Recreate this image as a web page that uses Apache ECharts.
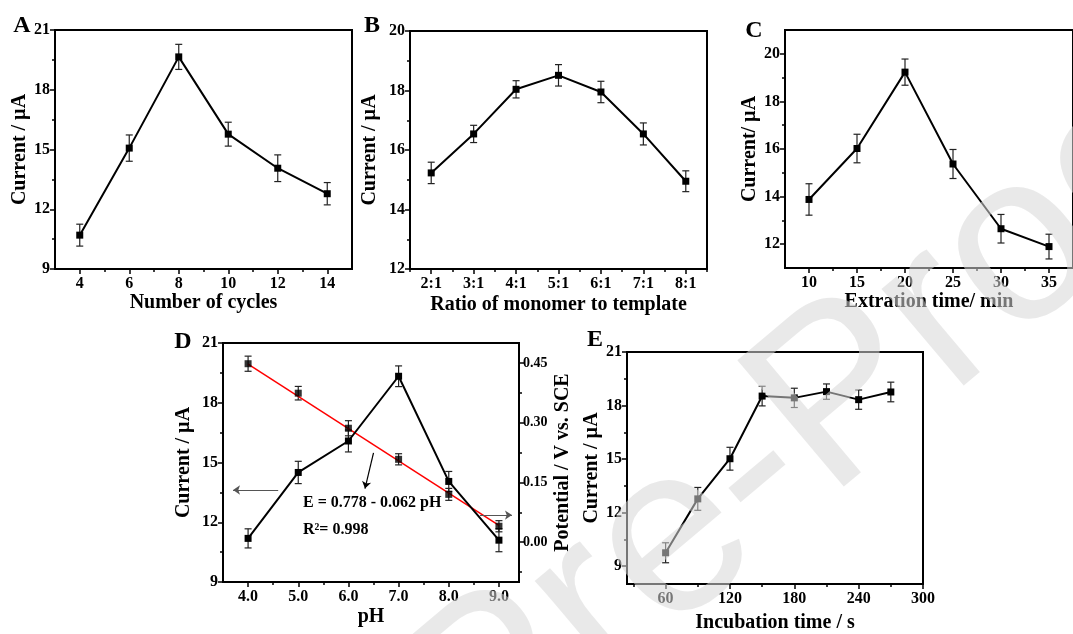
<!DOCTYPE html>
<html><head><meta charset="utf-8">
<script src="https://cdn.jsdelivr.net/npm/echarts@6/dist/echarts.min.js"></script>
<style>html,body{margin:0;padding:0;background:#fff}#c{width:1073px;height:634px}</style>
</head><body><div id="c"></div>
<script>
const FONT = '"Liberation Serif","Times New Roman",serif';

// ---------- Panel A : number of cycles ----------
const cyclesX = [4, 6, 8, 10, 12, 14];
const cyclesCurrent = [10.7, 15.07, 19.65, 15.77, 14.06, 12.78];
const cyclesError = [0.55, 0.66, 0.63, 0.6, 0.67, 0.56];
const cyclesXTicks = [4, 6, 8, 10, 12, 14];
const cyclesXMinor = [5, 7, 9, 11, 13];
const current9Ticks = [9, 12, 15, 18, 21];
const current9Minor = [10.5, 13.5, 16.5, 19.5];

// ---------- Panel B : monomer / template ratio ----------
const ratioCats = ['2:1', '3:1', '4:1', '5:1', '6:1', '7:1', '8:1'];
const ratioCurrent = [15.23, 16.54, 18.04, 18.51, 17.95, 16.54, 14.95];
const ratioError = [0.36, 0.29, 0.29, 0.36, 0.36, 0.37, 0.35];
const ratioYTicks = [12, 14, 16, 18, 20];
const ratioYMinor = [13, 15, 17, 19];

// ---------- Panel C : extraction time ----------
const extX = [10, 15, 20, 25, 30, 35];
const extCurrent = [13.88, 16.02, 19.23, 15.37, 12.65, 11.9];
const extError = [0.66, 0.6, 0.55, 0.61, 0.6, 0.52];
const extXTicks = [10, 15, 20, 25, 30, 35];
const extXMinor = [12.5, 17.5, 22.5, 27.5, 32.5];
const extYTicks = [12, 14, 16, 18, 20];
const extYMinor = [13, 15, 17, 19];

// ---------- Panel D : pH ----------
const phX = [4, 5, 6, 7, 8, 9];
const phCurrent = [11.19, 14.5, 16.08, 19.33, 14.05, 11.1];
const phCurrentError = [0.48, 0.56, 0.55, 0.52, 0.5, 0.58];
const phPotential = [0.448, 0.374, 0.286, 0.208, 0.12, 0.04];
const phPotentialError = [0.019, 0.017, 0.019, 0.014, 0.015, 0.014];
const phFitX = [4, 9];
const phFitPotential = [0.447, 0.042];
const phXTicks = [4, 5, 6, 7, 8, 9];
const phXMinor = [4.5, 5.5, 6.5, 7.5, 8.5];
const potentialTicks = [0, 0.15, 0.30, 0.45];
const potentialMinor = [-0.075, 0.075, 0.225, 0.375];

// ---------- Panel E : incubation time ----------
const incX = [60, 90, 120, 150, 180, 210, 240, 270];
const incCurrent = [9.75, 12.77, 15.02, 18.53, 18.43, 18.78, 18.33, 18.76];
const incError = [0.56, 0.64, 0.64, 0.55, 0.54, 0.43, 0.54, 0.55];
const incXTicks = [60, 120, 180, 240, 300];
const incXMinor = [30, 90, 150, 210, 270];

// ---------- helpers ----------
const labelStyle = {fontFamily: FONT, fontWeight: 'bold', fontSize: 16, color: '#000'};
const nameStyle = {fontFamily: FONT, fontWeight: 'bold', fontSize: 20, color: '#000'};
const grids = [], xAxis = [], yAxis = [], series = [];

function mainAxis(g, pos, min, max, ticks, fmt, name, gap, margin, lblSize) {
  return {
    type: 'value', gridIndex: g, position: pos, min: min, max: max,
    name: name, nameLocation: 'middle', nameGap: gap, nameTextStyle: nameStyle,
    axisLine: {show: true, onZero: false, lineStyle: {color: '#000', width: 2}},
    axisTick: {show: true, length: 5, customValues: ticks, lineStyle: {color: '#000', width: 1.5}},
    axisLabel: Object.assign({show: true, customValues: ticks, formatter: fmt, margin: margin}, labelStyle,
      lblSize ? {fontSize: lblSize} : {}),
    splitLine: {show: false}
  };
}
function minorAxis(g, pos, min, max, ticks) {
  return {
    type: 'value', gridIndex: g, position: pos, min: min, max: max,
    axisLine: {show: false, onZero: false},
    axisTick: {show: true, length: 3, customValues: ticks, lineStyle: {color: '#000', width: 1.5}},
    axisLabel: {show: false}, splitLine: {show: false}
  };
}
function grid(left, top, width, height) {
  grids.push({left: left, top: top, width: width, height: height, show: true,
    borderColor: '#000', borderWidth: 2, backgroundColor: 'transparent'});
  return grids.length - 1;
}
function errRender(params, api) {
  const x = api.value(0), lo = api.value(1), hi = api.value(2);
  const a = api.coord([x, hi]), b = api.coord([x, lo]);
  const w = 3.5, st = {stroke: '#222', lineWidth: 1.2};
  return {type: 'group', children: [
    {type: 'line', shape: {x1: a[0], y1: a[1], x2: b[0], y2: b[1]}, style: st},
    {type: 'line', shape: {x1: a[0] - w, y1: a[1], x2: a[0] + w, y2: a[1]}, style: st},
    {type: 'line', shape: {x1: b[0] - w, y1: b[1], x2: b[0] + w, y2: b[1]}, style: st}
  ]};
}
function errSeries(xi, yi, xs, ys, es) {
  return {type: 'custom', xAxisIndex: xi, yAxisIndex: yi, z: 1, silent: true,
    renderItem: errRender, encode: {x: 0, y: [1, 2]},
    data: xs.map((x, i) => [x, ys[i] - es[i], ys[i] + es[i]])};
}
function lineSeries(xi, yi, xs, ys, extra) {
  return Object.assign({type: 'line', xAxisIndex: xi, yAxisIndex: yi, z: 3, silent: true,
    symbol: 'rect', symbolSize: 7, showSymbol: true,
    itemStyle: {color: '#000'}, lineStyle: {color: '#000', width: 2},
    data: xs.map((x, i) => [x, ys[i]])}, extra || {});
}
const intFmt = v => String(v);

// ---------- Panel A ----------
{
  const g = grid(55, 30, 297, 239);
  const xi = xAxis.length, yi = yAxis.length;
  xAxis.push(mainAxis(g, 'bottom', 3, 15, cyclesXTicks, intFmt, 'Number of cycles', 19, 7));
  xAxis.push(minorAxis(g, 'bottom', 3, 15, cyclesXMinor));
  yAxis.push(mainAxis(g, 'left', 9, 21, current9Ticks, intFmt, 'Current / µA', 25, 5));
  yAxis.push(minorAxis(g, 'left', 9, 21, current9Minor));
  series.push(errSeries(xi, yi, cyclesX, cyclesCurrent, cyclesError));
  series.push(lineSeries(xi, yi, cyclesX, cyclesCurrent));
}
// ---------- Panel B ----------
{
  const g = grid(410, 31, 297, 238);
  const xi = xAxis.length, yi = yAxis.length;
  xAxis.push({
    type: 'category', gridIndex: g, position: 'bottom', data: ratioCats, boundaryGap: true,
    name: 'Ratio of monomer to template', nameLocation: 'middle', nameGap: 26, nameTextStyle: nameStyle,
    axisLine: {show: true, onZero: false, lineStyle: {color: '#000', width: 2}},
    axisTick: {show: true, alignWithLabel: true, length: 5, lineStyle: {color: '#000', width: 1.5}},
    axisLabel: Object.assign({margin: 7, interval: 0}, labelStyle), splitLine: {show: false}
  });
  xAxis.push({
    type: 'category', gridIndex: g, position: 'bottom', data: ratioCats, boundaryGap: true,
    axisLine: {show: false, onZero: false},
    axisTick: {show: true, length: 3, interval: 0, lineStyle: {color: '#000', width: 1.5}},
    axisLabel: {show: false}, splitLine: {show: false}
  });
  yAxis.push(mainAxis(g, 'left', 12, 20, ratioYTicks, intFmt, 'Current / µA', 30, 5));
  yAxis.push(minorAxis(g, 'left', 12, 20, ratioYMinor));
  const idx = ratioCats.map((c, i) => i);
  series.push(errSeries(xi, yi, idx, ratioCurrent, ratioError));
  series.push(lineSeries(xi, yi, idx, ratioCurrent));
}
// ---------- Panel C ----------
{
  const g = grid(785, 30, 296, 238);
  const xi = xAxis.length, yi = yAxis.length;
  xAxis.push(mainAxis(g, 'bottom', 7.5, 37.5, extXTicks, intFmt, 'Extration time/ min', 24, 7));
  xAxis.push(minorAxis(g, 'bottom', 7.5, 37.5, extXMinor));
  yAxis.push(mainAxis(g, 'left', 11, 21, extYTicks, intFmt, 'Current/ µA', 25, 5));
  yAxis.push(minorAxis(g, 'left', 11, 21, extYMinor));
  series.push(errSeries(xi, yi, extX, extCurrent, extError));
  series.push(lineSeries(xi, yi, extX, extCurrent));
}
// ---------- Panel D ----------
{
  const g = grid(223, 343, 296, 239);
  const xi = xAxis.length, yi = yAxis.length;
  xAxis.push(mainAxis(g, 'bottom', 3.5, 9.4, phXTicks, v => v.toFixed(1), 'pH', 25, 7));
  xAxis.push(minorAxis(g, 'bottom', 3.5, 9.4, phXMinor));
  yAxis.push(mainAxis(g, 'left', 9, 21, current9Ticks, intFmt, 'Current / µA', 29, 5));
  yAxis.push(minorAxis(g, 'left', 9, 21, current9Minor));
  const yr = yAxis.length;
  yAxis.push(mainAxis(g, 'right', -0.1, 0.5, potentialTicks, v => v.toFixed(2), 'Potential / V vs. SCE', 34, 4, 14));
  yAxis.push(minorAxis(g, 'right', -0.1, 0.5, potentialMinor));
  series.push(errSeries(xi, yi, phX, phCurrent, phCurrentError));
  series.push(errSeries(xi, yr, phX, phPotential, phPotentialError));
  series.push({type: 'line', xAxisIndex: xi, yAxisIndex: yr, z: 2, silent: true, symbol: 'none',
    lineStyle: {color: '#ff0000', width: 1.5},
    data: phFitX.map((x, i) => [x, phFitPotential[i]])});
  series.push({type: 'scatter', xAxisIndex: xi, yAxisIndex: yr, z: 4, silent: true,
    symbol: 'rect', symbolSize: 7, itemStyle: {color: '#000'},
    data: phX.map((x, i) => [x, phPotential[i]])});
  series.push(lineSeries(xi, yi, phX, phCurrent, {
    markLine: {silent: true, symbol: ['none', 'arrow'], symbolSize: 7, animation: false,
      label: {show: false}, lineStyle: {type: 'solid', color: '#555', width: 1.2},
      data: [
        [{coord: [4.6, 13.62]}, {coord: [3.7, 13.62]}],
        [{coord: [8.62, 12.36]}, {coord: [9.26, 12.36]}],
        [{coord: [6.5, 15.48], lineStyle: {color: '#000'}}, {coord: [6.33, 13.69]}]
      ]}
  }));
}
// ---------- Panel E ----------
{
  const g = grid(627, 352, 296, 238);
  const xi = xAxis.length, yi = yAxis.length;
  xAxis.push(mainAxis(g, 'bottom', 24, 300, incXTicks, intFmt, 'Incubation time / s', 29, 7));
  xAxis.push(minorAxis(g, 'bottom', 24, 300, incXMinor));
  yAxis.push(mainAxis(g, 'left', 8, 21, current9Ticks, intFmt, 'Current / µA', 13, 5));
  yAxis.push(minorAxis(g, 'left', 8, 21, current9Minor));
  series.push(errSeries(xi, yi, incX, incCurrent, incError));
  series.push(lineSeries(xi, yi, incX, incCurrent));
}

function txt(x, y, text, size, extra) {
  return Object.assign({type: 'text', x: x, y: y, silent: true, z: 50,
    style: {text: text, fontFamily: FONT, fontWeight: 'bold', fontSize: size, fill: '#000',
      textAlign: 'center', textVerticalAlign: 'middle', align: 'center', verticalAlign: 'middle'}}, extra || {});
}
const graphic = [
  txt(22, 26, 'A', 24), txt(372, 26, 'B', 24), txt(754, 31, 'C', 24),
  txt(183, 342, 'D', 24), txt(595, 340, 'E', 24),
  {type: 'text', x: 303, y: 503, silent: true, z: 50,
    style: {text: 'E = 0.778 - 0.062 pH', fontFamily: FONT, fontWeight: 'bold', fontSize: 16, fill: '#000',
      textAlign: 'left', textVerticalAlign: 'middle', align: 'left', verticalAlign: 'middle'}},
  {type: 'text', x: 303, y: 530, silent: true, z: 50,
    style: {text: 'R²= 0.998', fontFamily: FONT, fontWeight: 'bold', fontSize: 16, fill: '#000',
      textAlign: 'left', textVerticalAlign: 'middle', align: 'left', verticalAlign: 'middle'}},
  {type: 'text', x: 832, y: 410, rotation: 0.70, silent: true, z: 100,
    style: {text: 'Pre-Proof', fontFamily: '"Liberation Sans", Arial, sans-serif', fontSize: 240,
      fill: 'rgba(215,215,215,0.55)', textAlign: 'center', textVerticalAlign: 'middle',
      align: 'center', verticalAlign: 'middle'}}
];

const chart = echarts.init(document.getElementById('c'), null, {renderer: 'canvas'});
chart.setOption({
  animation: false,
  backgroundColor: '#fff',
  grid: grids, xAxis: xAxis, yAxis: yAxis, series: series, graphic: graphic
});
</script></body></html>
